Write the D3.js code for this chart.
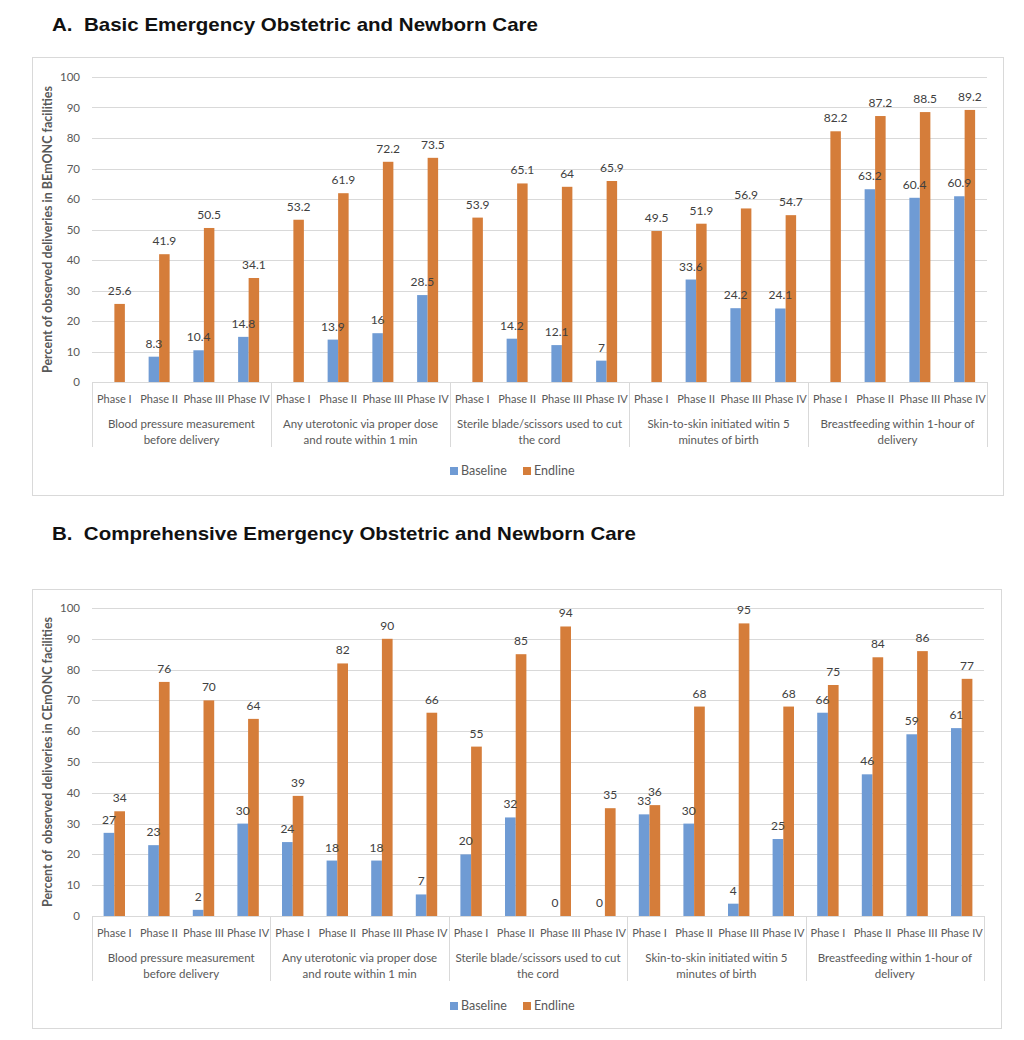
<!DOCTYPE html>
<html>
<head>
<meta charset="utf-8">
<script src="https://cdn.jsdelivr.net/npm/d3@7"></script>
<style>
  body { margin: 0; background: #fff; }
  svg { display: block; }
</style>
</head>
<body>
<svg id="chart" width="1024" height="1040"></svg>
<script>
// data
const phases = ["Phase I", "Phase II", "Phase III", "Phase IV"];
const indicators = [
  ["Blood pressure measurement", "before delivery"],
  ["Any uterotonic via proper dose", "and route within 1 min"],
  ["Sterile blade/scissors used to cut", "the cord"],
  ["Skin-to-skin initiated witin 5", "minutes of birth"],
  ["Breastfeeding within 1-hour of", "delivery"]
];
const yTicks = [0, 10, 20, 30, 40, 50, 60, 70, 80, 90, 100];
const seriesNames = ["Baseline", "Endline"];

// A. BEmONC
const baselineA = [
  [null, 8.3, 10.4, 14.8],
  [null, 13.9, 16, 28.5],
  [null, 14.2, 12.1, 7],
  [null, 33.6, 24.2, 24.1],
  [null, 63.2, 60.4, 60.9]
];
const endlineA = [
  [25.6, 41.9, 50.5, 34.1],
  [53.2, 61.9, 72.2, 73.5],
  [53.9, 65.1, 64, 65.9],
  [49.5, 51.9, 56.9, 54.7],
  [82.2, 87.2, 88.5, 89.2]
];

// B. CEmONC
const baselineB = [
  [27, 23, 2, 30],
  [24, 18, 18, 7],
  [20, 32, 0, 0],
  [33, 30, 4, 25],
  [66, 46, 59, 61]
];
const endlineB = [
  [34, 76, 70, 64],
  [39, 82, 90, 66],
  [55, 85, 94, 35],
  [36, 68, 95, 68],
  [75, 84, 86, 77]
];

const colors = { Baseline: "#6f9bd4", Endline: "#d57d3a" };
const grid = "#d9d9d9";
const txt = "#595959";
const font = "Lato, 'Liberation Sans', sans-serif";

const svg = d3.select("#chart");

function drawChart(opt) {
  const g = svg.append("g");

  // title above the box
  g.append("text")
    .attr("x", 52).attr("y", opt.titleY)
    .attr("font-family", "'Liberation Sans', Arial, sans-serif")
    .attr("font-weight", "bold")
    .attr("font-size", 19)
    .attr("fill", "#111")
    .attr("textLength", opt.titleLen)
    .attr("lengthAdjust", "spacingAndGlyphs")
    .attr("xml:space", "preserve")
    .text(opt.title);

  // chart border
  g.append("rect")
    .attr("x", 32.5).attr("y", opt.boxTop + 0.5)
    .attr("width", opt.boxRight - 32).attr("height", opt.boxBottom - opt.boxTop)
    .attr("fill", "none").attr("stroke", grid);

  // rows: one per indicator x phase
  const rows = [];
  indicators.forEach((ind, i) => {
    phases.forEach((p, j) => {
      rows.push({ key: i + "-" + j, ind: i, phase: p,
        Baseline: opt.base[i][j], Endline: opt.end[i][j] });
    });
  });

  const x0 = d3.scaleBand()
    .domain(rows.map(d => d.key))
    .range([opt.left, opt.right]);

  const x1 = d3.scaleBand()
    .domain(seriesNames)
    .range([x0.bandwidth() / 2 - opt.barW, x0.bandwidth() / 2 + opt.barW]);

  const y = d3.scaleLinear()
    .domain([0, 100])
    .range([opt.y0, opt.y100]);

  // gridlines
  g.append("g")
    .selectAll("line")
    .data(yTicks.filter(t => t > 0))
    .join("line")
    .attr("x1", opt.left).attr("x2", opt.right)
    .attr("y1", d => Math.round(y(d)) + 0.5).attr("y2", d => Math.round(y(d)) + 0.5)
    .attr("stroke", grid);

  // y tick labels
  g.append("g")
    .selectAll("text")
    .data(yTicks)
    .join("text")
    .attr("x", opt.left - 12)
    .attr("y", d => y(d))
    .attr("dy", "0.35em")
    .attr("text-anchor", "end")
    .attr("font-family", font)
    .attr("font-size", 11.5)
    .attr("fill", txt)
    .text(d => d);

  // y axis title
  g.append("text")
    .attr("transform", `translate(52,${(opt.y0 + opt.y100) / 2}) rotate(-90)`)
    .attr("text-anchor", "middle")
    .attr("font-family", font)
    .attr("font-weight", "bold")
    .attr("font-size", 12.5)
    .attr("fill", txt)
    .attr("xml:space", "preserve")
    .text(opt.yTitle);

  // bars
  const bars = g.append("g")
    .selectAll("g")
    .data(rows)
    .join("g")
    .attr("transform", d => `translate(${x0(d.key)},0)`);

  bars.selectAll("rect")
    .data(d => seriesNames.map(s => ({ s, v: d[s] })).filter(e => e.v !== null))
    .join("rect")
    .attr("x", e => x1(e.s))
    .attr("width", x1.bandwidth())
    .attr("y", e => y(e.v))
    .attr("height", e => y(0) - y(e.v))
    .attr("fill", e => colors[e.s]);

  bars.selectAll("text")
    .data(d => seriesNames.map(s => ({ s, v: d[s] })).filter(e => e.v !== null))
    .join("text")
    .attr("x", e => x1(e.s) + x1.bandwidth() / 2)
    .attr("y", e => y(e.v) - 9)
    .attr("text-anchor", "middle")
    .attr("font-family", font)
    .attr("font-size", 12)
    .attr("fill", "#404040")
    .text(e => e.v);

  // x axis line
  g.append("line")
    .attr("x1", opt.left).attr("x2", opt.right)
    .attr("y1", Math.round(y(0)) + 0.5).attr("y2", Math.round(y(0)) + 0.5)
    .attr("stroke", grid);

  // phase labels
  g.append("g")
    .selectAll("text")
    .data(rows)
    .join("text")
    .attr("x", d => x0(d.key) + x0.bandwidth() / 2)
    .attr("y", opt.y0 + 21)
    .attr("text-anchor", "middle")
    .attr("font-family", font)
    .attr("font-size", 11)
    .attr("fill", txt)
    .text(d => d.phase);

  // indicator group labels and dividers
  const groupW = (opt.right - opt.left) / indicators.length;
  const gx = d3.scaleLinear().domain([0, indicators.length]).range([opt.left, opt.right]);

  g.append("g")
    .selectAll("line")
    .data(d3.range(indicators.length + 1))
    .join("line")
    .attr("x1", d => Math.round(gx(d)) + 0.5).attr("x2", d => Math.round(gx(d)) + 0.5)
    .attr("y1", opt.y0).attr("y2", opt.y0 + 65)
    .attr("stroke", grid);

  const lbl = g.append("g")
    .selectAll("text")
    .data(indicators)
    .join("text")
    .attr("text-anchor", "middle")
    .attr("font-family", font)
    .attr("font-size", 11.5)
    .attr("fill", txt);
  lbl.selectAll("tspan")
    .data((d, i) => d.map(t => ({ t, i })))
    .join("tspan")
    .attr("x", d => gx(d.i) + groupW / 2)
    .attr("y", (d, k) => opt.y0 + 46 + k * 16)
    .text(d => d.t);

  // legend
  const leg = g.append("g")
    .selectAll("g")
    .data(seriesNames)
    .join("g")
    .attr("transform", (d, i) => `translate(${450 + i * 73},${opt.legendY})`);
  leg.append("rect")
    .attr("x", 0).attr("y", -4).attr("width", 8).attr("height", 8)
    .attr("fill", d => colors[d]);
  leg.append("text")
    .attr("x", 11).attr("y", 0).attr("dy", "0.35em")
    .attr("font-family", font)
    .attr("font-size", 12.5)
    .attr("fill", txt)
    .text(d => d);
}

drawChart({
  title: "A.  Basic Emergency Obstetric and Newborn Care",
  titleY: 31, titleLen: 486,
  yTitle: "Percent of observed deliveries in BEmONC facilities",
  base: baselineA, end: endlineA,
  boxTop: 57, boxBottom: 495, boxRight: 1003,
  left: 92, right: 987, y0: 382, y100: 77,
  barW: 10.5, legendY: 471
});

drawChart({
  title: "B.  Comprehensive Emergency Obstetric and Newborn Care",
  titleY: 540, titleLen: 584,
  yTitle: "Percent of  observed deliveries in CEmONC facilities",
  base: baselineB, end: endlineB,
  boxTop: 589, boxBottom: 1028, boxRight: 1001,
  left: 92, right: 984, y0: 916, y100: 608,
  barW: 10.7, legendY: 1006
});
</script>
</body>
</html>
